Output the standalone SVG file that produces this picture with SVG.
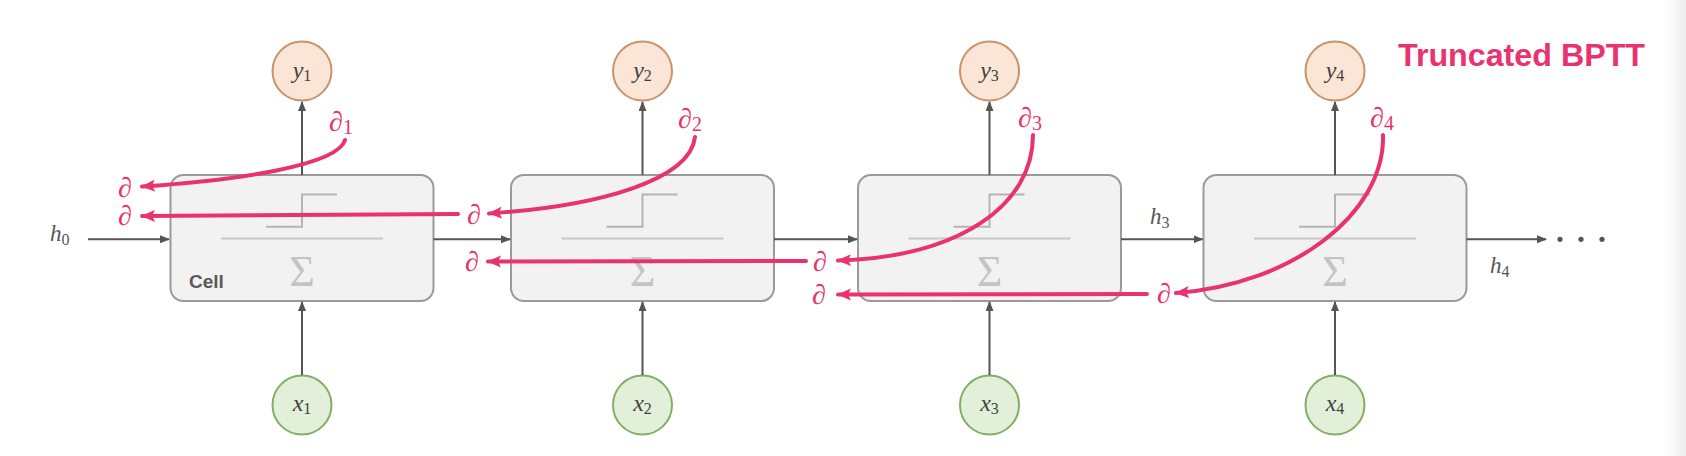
<svg xmlns="http://www.w3.org/2000/svg" width="1686" height="456" viewBox="0 0 1686 456">
<defs>
<marker id="ga" viewBox="0 0 10 8" refX="9" refY="4" markerWidth="10" markerHeight="8" markerUnits="userSpaceOnUse" orient="auto"><path d="M0,0 L10,4 L0,8 z" fill="#555"/></marker>
<marker id="pa" viewBox="0 0 14 12" refX="13" refY="6" markerWidth="14" markerHeight="12" markerUnits="userSpaceOnUse" orient="auto"><path d="M0,0 L14,6 L0,12 L3,6 z" fill="#e8336e"/></marker>
<linearGradient id="edge" x1="0" x2="1" y1="0" y2="0"><stop offset="0" stop-color="#fff" stop-opacity="0"/><stop offset="1" stop-color="#ececec"/></linearGradient>
<style>
.box{fill:#f2f2f2;stroke:#9a9a9a;stroke-width:2}
.step{fill:none;stroke:#b4b4b4;stroke-width:2}
.div{stroke:#c8c8c8;stroke-width:2}
.sig{font-family:"Liberation Serif",serif;font-size:44px;fill:#c4c4c4;text-anchor:middle}
.yc{fill:#fbe5d6;stroke:#c8926a;stroke-width:2}
.xc{fill:#e2f0d9;stroke:#84ad66;stroke-width:2}
.lbl{font-family:"Liberation Serif",serif;font-style:italic;font-size:24px;fill:#404040;text-anchor:middle}
.sub{font-size:16px;font-style:normal}
.hl{font-family:"Liberation Serif",serif;font-style:italic;font-size:23px;fill:#555}
.ar{fill:none;stroke:#555;stroke-width:2;marker-end:url(#ga)}
.pk{fill:none;stroke:#e8336e;stroke-width:4;stroke-linecap:round;marker-end:url(#pa)}
.pd{font-family:"Liberation Serif",serif;font-style:italic;font-size:28px;fill:#e8336e;text-anchor:middle}
.psub{font-size:20px;font-style:normal}
.cell{font-family:"Liberation Sans",sans-serif;font-weight:bold;font-size:19px;fill:#595959}
.title{font-family:"Liberation Sans",sans-serif;font-weight:bold;font-size:31px;fill:#e8336e}
.dot{fill:#555}
</style>
</defs>
<rect x="1656" y="0" width="30" height="456" fill="url(#edge)"/>

<g id="cell1">
<rect class="box" x="170.5" y="175" width="263" height="126" rx="13"/>
<path class="step" d="M266,226.7 H302 V194.5 H337"/>
<line class="div" x1="221" y1="238.5" x2="383" y2="238.5"/>
<text class="sig" x="302" y="286">Σ</text>
<text class="cell" x="189" y="288">Cell</text>
</g>
<g id="cell2">
<rect class="box" x="511" y="175" width="263" height="126" rx="13"/>
<path class="step" d="M606.5,226.7 H642.5 V194.5 H677.5"/>
<line class="div" x1="561.5" y1="238.5" x2="723.5" y2="238.5"/>
<text class="sig" x="642.5" y="286">Σ</text>
</g>
<g id="cell3">
<rect class="box" x="858" y="175" width="263" height="126" rx="13"/>
<path class="step" d="M953.5,226.7 H989.5 V194.5 H1024.5"/>
<line class="div" x1="908.5" y1="238.5" x2="1070.5" y2="238.5"/>
<text class="sig" x="989.5" y="286">Σ</text>
</g>
<g id="cell4">
<rect class="box" x="1203.5" y="175" width="263" height="126" rx="13"/>
<path class="step" d="M1299,226.7 H1335 V194.5 H1370"/>
<line class="div" x1="1254" y1="238.5" x2="1416" y2="238.5"/>
<text class="sig" x="1335" y="286">Σ</text>
</g>

<g id="y1"><circle class="yc" cx="302" cy="71" r="29.5"/><text class="lbl" x="302" y="78">y<tspan class="sub" dy="3">1</tspan></text></g>
<g id="y2"><circle class="yc" cx="642.5" cy="71" r="29.5"/><text class="lbl" x="642.5" y="78">y<tspan class="sub" dy="3">2</tspan></text></g>
<g id="y3"><circle class="yc" cx="989.5" cy="71" r="29.5"/><text class="lbl" x="989.5" y="78">y<tspan class="sub" dy="3">3</tspan></text></g>
<g id="y4"><circle class="yc" cx="1335" cy="71" r="29.5"/><text class="lbl" x="1335" y="78">y<tspan class="sub" dy="3">4</tspan></text></g>

<g id="x1"><circle class="xc" cx="302" cy="405" r="29.5"/><text class="lbl" x="302" y="411">x<tspan class="sub" dy="3">1</tspan></text></g>
<g id="x2"><circle class="xc" cx="642.5" cy="405" r="29.5"/><text class="lbl" x="642.5" y="411">x<tspan class="sub" dy="3">2</tspan></text></g>
<g id="x3"><circle class="xc" cx="989.5" cy="405" r="29.5"/><text class="lbl" x="989.5" y="411">x<tspan class="sub" dy="3">3</tspan></text></g>
<g id="x4"><circle class="xc" cx="1335" cy="405" r="29.5"/><text class="lbl" x="1335" y="411">x<tspan class="sub" dy="3">4</tspan></text></g>

<g id="connectors">
<line class="ar" x1="302" y1="175" x2="302" y2="102"/>
<line class="ar" x1="642.5" y1="175" x2="642.5" y2="102"/>
<line class="ar" x1="989.5" y1="175" x2="989.5" y2="102"/>
<line class="ar" x1="1335" y1="175" x2="1335" y2="102"/>
<line class="ar" x1="302" y1="375" x2="302" y2="302"/>
<line class="ar" x1="642.5" y1="375" x2="642.5" y2="302"/>
<line class="ar" x1="989.5" y1="375" x2="989.5" y2="302"/>
<line class="ar" x1="1335" y1="375" x2="1335" y2="302"/>
<line class="ar" x1="88" y1="239.3" x2="169" y2="239.3"/>
<line class="ar" x1="433.5" y1="239.3" x2="510" y2="239.3"/>
<line class="ar" x1="774" y1="239.3" x2="857" y2="239.3"/>
<line class="ar" x1="1121" y1="239.3" x2="1202.5" y2="239.3"/>
<line class="ar" x1="1466.5" y1="239.3" x2="1546" y2="239.3"/>
<circle class="dot" cx="1560" cy="239.3" r="2.6"/>
<circle class="dot" cx="1581" cy="239.3" r="2.6"/>
<circle class="dot" cx="1602" cy="239.3" r="2.6"/>

<path class="pk" d="M345,140 C338,165 240,180 142,186.5"/>
<path class="pk" d="M458,214 L142,216"/>
<path class="pk" d="M695,137 C690,180 600,206 489,213.5"/>
<path class="pk" d="M806,261 L488,261.5"/>
<path class="pk" d="M1033,135 C1033,205 960,257 838,260.5"/>
<path class="pk" d="M1147,294 L838,294.5"/>
<path class="pk" d="M1383,135 C1385,215 1290,285 1176,293"/>
</g>

<g id="labels">
<text class="hl" x="50" y="241">h<tspan class="sub" dy="4">0</tspan></text>
<text class="hl" x="1150" y="224">h<tspan class="sub" dy="4">3</tspan></text>
<text class="hl" x="1490" y="273">h<tspan class="sub" dy="4">4</tspan></text>
<text class="pd" x="341" y="131">∂<tspan class="psub" dy="3">1</tspan></text>
<text class="pd" x="690" y="128">∂<tspan class="psub" dy="3">2</tspan></text>
<text class="pd" x="1030" y="127">∂<tspan class="psub" dy="3">3</tspan></text>
<text class="pd" x="1382" y="127">∂<tspan class="psub" dy="3">4</tspan></text>
<text class="pd" x="125" y="197">∂</text>
<text class="pd" x="125" y="225">∂</text>
<text class="pd" x="474" y="224">∂</text>
<text class="pd" x="472" y="271">∂</text>
<text class="pd" x="820" y="271">∂</text>
<text class="pd" x="819" y="304">∂</text>
<text class="pd" x="1164" y="303">∂</text>
<text class="title" x="1398" y="66" textLength="247" lengthAdjust="spacingAndGlyphs">Truncated BPTT</text>
</g>
</svg>
